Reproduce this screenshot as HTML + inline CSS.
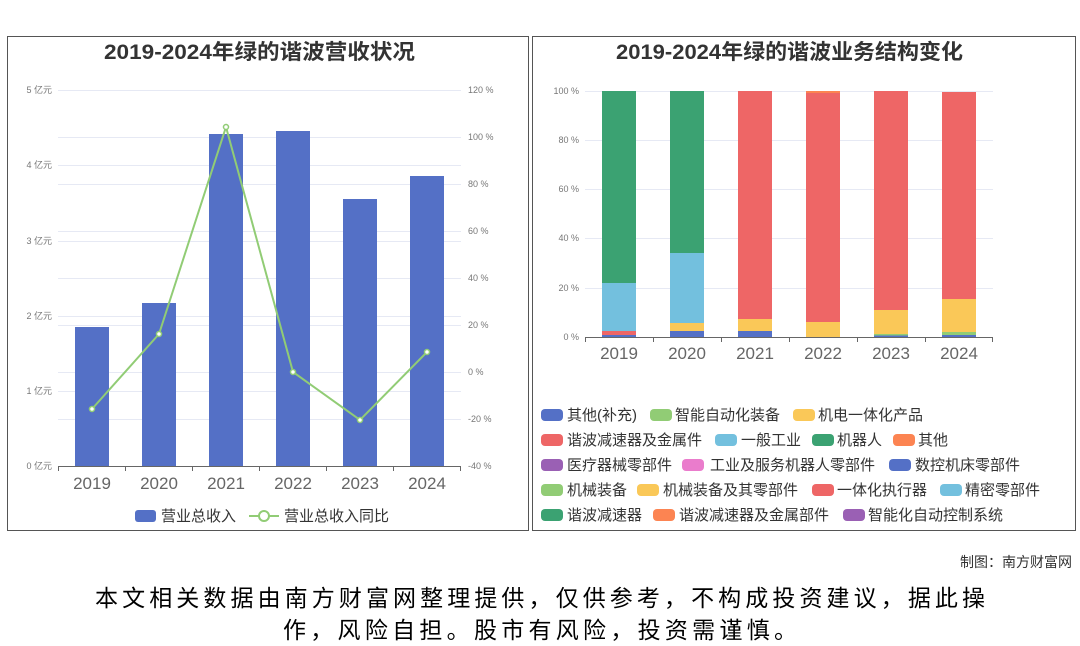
<!DOCTYPE html>
<html><head><meta charset="utf-8"><style>
body{margin:0;background:#fff;}
svg{display:block;font-family:"Liberation Sans","Noto Sans CJK SC",sans-serif;}
</style></head><body>
<svg width="1080" height="646" viewBox="0 0 1080 646" xmlns="http://www.w3.org/2000/svg">
<rect width="1080" height="646" fill="#fff"/>
<!-- left panel -->
<rect x="7.5" y="36.5" width="521" height="494" fill="none" stroke="#555" stroke-width="1"/>
<text x="104" y="59" textLength="311" lengthAdjust="spacingAndGlyphs" font-size="21" font-weight="bold" fill="#333">2019-2024年绿的谐波营收状况</text>
<g stroke="#e6e9f4" stroke-width="1">
<line x1="58" x2="461" y1="90.5" y2="90.5"/><line x1="58" x2="461" y1="137.5" y2="137.5"/><line x1="58" x2="461" y1="165.5" y2="165.5"/><line x1="58" x2="461" y1="184.5" y2="184.5"/><line x1="58" x2="461" y1="231.5" y2="231.5"/><line x1="58" x2="461" y1="241.5" y2="241.5"/><line x1="58" x2="461" y1="278.5" y2="278.5"/><line x1="58" x2="461" y1="316.5" y2="316.5"/><line x1="58" x2="461" y1="325.5" y2="325.5"/><line x1="58" x2="461" y1="372.5" y2="372.5"/><line x1="58" x2="461" y1="391.5" y2="391.5"/><line x1="58" x2="461" y1="419.5" y2="419.5"/>
</g>
<g font-size="9" fill="#777" text-anchor="end">
<text x="52" y="93">5 亿元</text><text x="52" y="168">4 亿元</text><text x="52" y="244">3 亿元</text><text x="52" y="319">2 亿元</text><text x="52" y="394">1 亿元</text><text x="52" y="469">0 亿元</text>
</g>
<g font-size="9" fill="#777">
<text x="468" y="93">120 %</text><text x="468" y="140">100 %</text><text x="468" y="187">80 %</text><text x="468" y="234">60 %</text><text x="468" y="281">40 %</text><text x="468" y="328">20 %</text><text x="468" y="375">0 %</text><text x="468" y="422">-20 %</text><text x="468" y="469">-40 %</text>
</g>
<g fill="#5470c6">
<rect x="75" y="327" width="34" height="139"/><rect x="142" y="303" width="34" height="163"/><rect x="209" y="134" width="34" height="332"/><rect x="276" y="131" width="34" height="335"/><rect x="343" y="199" width="34" height="267"/><rect x="410" y="176" width="34" height="290"/>
</g>
<line x1="58" x2="461" y1="466.5" y2="466.5" stroke="#666"/>
<g stroke="#666"><line x1="58.5" x2="58.5" y1="466" y2="471"/><line x1="125.5" x2="125.5" y1="466" y2="471"/><line x1="192.5" x2="192.5" y1="466" y2="471"/><line x1="259.5" x2="259.5" y1="466" y2="471"/><line x1="326.5" x2="326.5" y1="466" y2="471"/><line x1="393.5" x2="393.5" y1="466" y2="471"/><line x1="460.5" x2="460.5" y1="466" y2="471"/></g>
<polyline points="92,409 159,334 226,127 293,372 360,420 427,352" fill="none" stroke="#91cc75" stroke-width="2"/>
<g fill="#fff" stroke="#91cc75" stroke-width="1.5"><circle cx="92" cy="409" r="2.5"/><circle cx="159" cy="334" r="2.5"/><circle cx="226" cy="127" r="2.5"/><circle cx="293" cy="372" r="2.5"/><circle cx="360" cy="420" r="2.5"/><circle cx="427" cy="352" r="2.5"/></g>
<g font-size="17" fill="#666" text-anchor="middle">
<text x="92" y="489">2019</text><text x="159" y="489">2020</text><text x="226" y="489">2021</text><text x="293" y="489">2022</text><text x="360" y="489">2023</text><text x="427" y="489">2024</text>
</g>
<rect x="135" y="510" width="21" height="12" rx="3" fill="#5470c6"/>
<text x="161" y="521" font-size="15" fill="#333">营业总收入</text>
<line x1="249" x2="279" y1="516" y2="516" stroke="#91cc75" stroke-width="2"/>
<circle cx="264" cy="516" r="5" fill="#fff" stroke="#91cc75" stroke-width="2"/>
<text x="284" y="521" font-size="15" fill="#333">营业总收入同比</text>

<!-- right panel -->
<rect x="532.5" y="36.5" width="543" height="494" fill="none" stroke="#555" stroke-width="1"/>
<text x="616" y="59" textLength="347" lengthAdjust="spacingAndGlyphs" font-size="21" font-weight="bold" fill="#333">2019-2024年绿的谐波业务结构变化</text>
<g stroke="#e6e9f4"><line x1="585" x2="993" y1="91.5" y2="91.5"/><line x1="585" x2="993" y1="140.5" y2="140.5"/><line x1="585" x2="993" y1="189.5" y2="189.5"/><line x1="585" x2="993" y1="238.5" y2="238.5"/><line x1="585" x2="993" y1="288.5" y2="288.5"/></g>
<g font-size="9" fill="#777" text-anchor="end">
<text x="579" y="94">100 %</text><text x="579" y="143">80 %</text><text x="579" y="192">60 %</text><text x="579" y="241">40 %</text><text x="579" y="291">20 %</text><text x="579" y="340">0 %</text>
</g>
<rect x="602" y="91" width="34" height="192" fill="#3ba272"/>
<rect x="602" y="283" width="34" height="48" fill="#73c0de"/>
<rect x="602" y="331" width="34" height="4" fill="#ee6666"/>
<rect x="602" y="335" width="34" height="2" fill="#5470c6"/>
<rect x="670" y="91" width="34" height="162" fill="#3ba272"/>
<rect x="670" y="253" width="34" height="70" fill="#73c0de"/>
<rect x="670" y="323" width="34" height="8" fill="#fac858"/>
<rect x="670" y="331" width="34" height="6" fill="#5470c6"/>
<rect x="738" y="91" width="34" height="228" fill="#ee6666"/>
<rect x="738" y="319" width="34" height="12" fill="#fac858"/>
<rect x="738" y="331" width="34" height="6" fill="#5470c6"/>
<rect x="806" y="91" width="34" height="2" fill="#fc8452"/>
<rect x="806" y="93" width="34" height="229" fill="#ee6666"/>
<rect x="806" y="322" width="34" height="15" fill="#fac858"/>
<rect x="874" y="91" width="34" height="219" fill="#ee6666"/>
<rect x="874" y="310" width="34" height="24" fill="#fac858"/>
<rect x="874" y="334" width="34" height="1.5" fill="#91cc75"/>
<rect x="874" y="335.5" width="34" height="1.5" fill="#5470c6"/>
<rect x="942" y="92" width="34" height="207" fill="#ee6666"/>
<rect x="942" y="299" width="34" height="33" fill="#fac858"/>
<rect x="942" y="332" width="34" height="3" fill="#91cc75"/>
<rect x="942" y="335" width="34" height="2" fill="#5470c6"/>
<line x1="585" x2="993" y1="337.5" y2="337.5" stroke="#666"/>
<g stroke="#666"><line x1="585.5" x2="585.5" y1="337" y2="342"/><line x1="653.5" x2="653.5" y1="337" y2="342"/><line x1="721.5" x2="721.5" y1="337" y2="342"/><line x1="789.5" x2="789.5" y1="337" y2="342"/><line x1="857.5" x2="857.5" y1="337" y2="342"/><line x1="925.5" x2="925.5" y1="337" y2="342"/><line x1="992.5" x2="992.5" y1="337" y2="342"/></g>
<g font-size="17" fill="#666" text-anchor="middle">
<text x="619" y="359">2019</text><text x="687" y="359">2020</text><text x="755" y="359">2021</text><text x="823" y="359">2022</text><text x="891" y="359">2023</text><text x="959" y="359">2024</text>
</g>
<g font-size="15" fill="#333">
<rect x="541" y="409" width="22" height="12" rx="4" fill="#5470c6"/><text x="567" y="420">其他(补充)</text>
<rect x="650" y="409" width="22" height="12" rx="4" fill="#91cc75"/><text x="675" y="420">智能自动化装备</text>
<rect x="793" y="409" width="22" height="12" rx="4" fill="#fac858"/><text x="818" y="420">机电一体化产品</text>
<rect x="541" y="434" width="22" height="12" rx="4" fill="#ee6666"/><text x="567" y="445">谐波减速器及金属件</text>
<rect x="715" y="434" width="22" height="12" rx="4" fill="#73c0de"/><text x="741" y="445">一般工业</text>
<rect x="812" y="434" width="22" height="12" rx="4" fill="#3ba272"/><text x="837" y="445">机器人</text>
<rect x="893" y="434" width="22" height="12" rx="4" fill="#fc8452"/><text x="918" y="445">其他</text>
<rect x="541" y="459" width="22" height="12" rx="4" fill="#9a60b4"/><text x="567" y="470">医疗器械零部件</text>
<rect x="682" y="459" width="22" height="12" rx="4" fill="#ea7ccc"/><text x="710" y="470">工业及服务机器人零部件</text>
<rect x="889" y="459" width="22" height="12" rx="4" fill="#5470c6"/><text x="915" y="470">数控机床零部件</text>
<rect x="541" y="484" width="22" height="12" rx="4" fill="#91cc75"/><text x="567" y="495">机械装备</text>
<rect x="637" y="484" width="22" height="12" rx="4" fill="#fac858"/><text x="663" y="495">机械装备及其零部件</text>
<rect x="812" y="484" width="22" height="12" rx="4" fill="#ee6666"/><text x="837" y="495">一体化执行器</text>
<rect x="940" y="484" width="22" height="12" rx="4" fill="#73c0de"/><text x="965" y="495">精密零部件</text>
<rect x="541" y="509" width="22" height="12" rx="4" fill="#3ba272"/><text x="567" y="520">谐波减速器</text>
<rect x="653" y="509" width="22" height="12" rx="4" fill="#fc8452"/><text x="679" y="520">谐波减速器及金属部件</text>
<rect x="843" y="509" width="22" height="12" rx="4" fill="#9a60b4"/><text x="868" y="520">智能化自动控制系统</text>
</g>

<text x="1072" y="567" text-anchor="end" font-size="14" fill="#333">制图：南方财富网</text>
<text x="95" y="606" textLength="890" lengthAdjust="spacing" font-size="23" fill="#000">本文相关数据由南方财富网整理提供，仅供参考，不构成投资建议，据此操</text>
<text x="283" y="638" textLength="514" lengthAdjust="spacing" font-size="23" fill="#000">作，风险自担。股市有风险，投资需谨慎。</text>
</svg>
</body></html>
